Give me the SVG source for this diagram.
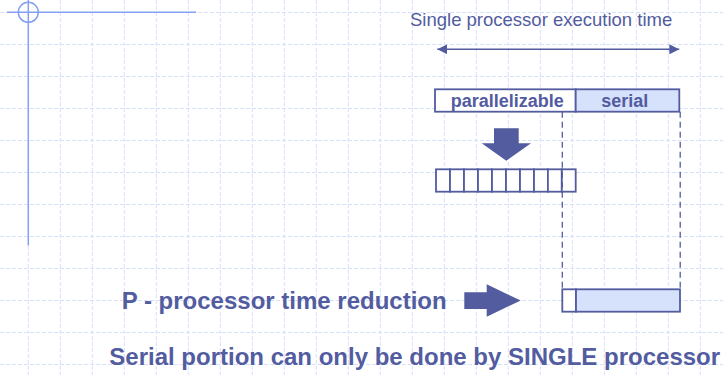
<svg xmlns="http://www.w3.org/2000/svg" width="723" height="375" viewBox="0 0 723 375">
  <defs>
    <style>
      .grid { stroke: #d6e0fc; stroke-width: 1; stroke-dasharray: 4 2; fill: none; }
      .deco { stroke: #84a0f2; stroke-width: 1.5; fill: none; }
      .box { stroke: #525c9f; stroke-width: 1.8; }
      .ink { fill: #525c9f; }
      .dash { stroke: #525c9f; stroke-width: 1.3; stroke-dasharray: 6 4; fill: none; }
      .label { font-family: "Liberation Sans", Arial, sans-serif; fill: #525c9f; }
      .bold { font-weight: bold; }
    </style>
    <marker id="head" viewBox="0 0 10 10" refX="10" refY="5" markerWidth="10" markerHeight="10" markerUnits="userSpaceOnUse" orient="auto-start-reverse">
      <path d="M0,0 L10,5 L0,10 Z" fill="#525c9f"/>
    </marker>
  </defs>

  <rect width="723" height="375" fill="#ffffff"/>

  <!-- background grid -->
  <g id="grid" class="grid">
    <path d="M28.3,0V375 M60.3,0V375 M92.3,0V375 M124.3,0V375 M156.3,0V375 M188.3,0V375 M220.3,0V375 M252.3,0V375 M284.3,0V375 M316.3,0V375 M348.3,0V375 M380.3,0V375 M412.3,0V375 M444.3,0V375 M476.3,0V375 M508.3,0V375 M540.3,0V375 M572.3,0V375 M604.3,0V375 M636.3,0V375 M668.3,0V375 M700.3,0V375"/>
    <path d="M0,12.5H723 M0,44.5H723 M0,76.5H723 M0,108.5H723 M0,140.5H723 M0,172.5H723 M0,204.5H723 M0,236.5H723 M0,268.5H723 M0,300.5H723 M0,332.5H723 M0,364.5H723"/>
  </g>

  <!-- corner ornament -->
  <g id="ornament" class="deco">
    <line x1="7" y1="12.3" x2="196" y2="12.3"/>
    <line x1="28.3" y1="0" x2="28.3" y2="245.5"/>
    <circle cx="28.3" cy="12.3" r="10"/>
  </g>

  <!-- single-processor timeline -->
  <g id="title">
    <text class="label" x="410" y="26" font-size="18.5">Single processor execution time</text>
  </g>

  <g id="timeline-bar">
    <rect class="box" x="435" y="89.3" width="140.7" height="22.4" fill="#ffffff"/>
    <rect class="box" x="575.7" y="89.3" width="103.6" height="22.4" fill="#d6e1fc"/>
    <text class="label bold" x="507.3" y="107.3" font-size="18" text-anchor="middle">parallelizable</text>
    <text class="label bold" x="624.7" y="107.3" font-size="18" text-anchor="middle">serial</text>
  </g>

  <!-- parallel pieces -->
  <g id="parallel-pieces" fill="#ffffff">
    <rect class="box" x="436" y="169.3" width="14" height="22.4"/>
    <rect class="box" x="450" y="169.3" width="14" height="22.4"/>
    <rect class="box" x="464" y="169.3" width="14" height="22.4"/>
    <rect class="box" x="478" y="169.3" width="14" height="22.4"/>
    <rect class="box" x="492" y="169.3" width="14" height="22.4"/>
    <rect class="box" x="506" y="169.3" width="14" height="22.4"/>
    <rect class="box" x="520" y="169.3" width="14" height="22.4"/>
    <rect class="box" x="534" y="169.3" width="13.9" height="22.4"/>
    <rect class="box" x="547.9" y="169.3" width="13.9" height="22.4"/>
    <rect class="box" x="561.8" y="169.3" width="13.9" height="22.4"/>
  </g>

  <!-- P-processor result bar -->
  <g id="reduced-bar">
    <rect class="box" x="562.3" y="289.3" width="13.7" height="22.4" fill="#ffffff"/>
    <rect class="box" x="576" y="289.3" width="104" height="22.4" fill="#d6e1fc"/>
  </g>

  <g id="caption-reduction">
    <text class="label bold" x="121.7" y="309.3" font-size="24">P - processor time reduction</text>
  </g>

  <g id="caption-serial">
    <text class="label bold" x="109.3" y="365" font-size="24">Serial portion can only be done by SINGLE processor</text>
  </g>

  <!-- connectors -->
  <g id="connectors">
    <line x1="437.3" y1="49.3" x2="679.3" y2="49.3" stroke="#525c9f" stroke-width="1.5" marker-start="url(#head)" marker-end="url(#head)"/>
    <line class="dash" x1="562.3" y1="111.7" x2="562.3" y2="289.3"/>
    <line class="dash" x1="680.2" y1="111.7" x2="680.2" y2="289.3"/>
    <path class="ink" d="M494,128.3 H518.7 V143.3 H531 L506.3,160.7 L481.7,143.3 H494 Z"/>
    <path class="ink" d="M464.3,292.3 H486.7 V284.3 L520.7,300.5 L486.7,316.7 V309 H464.3 Z"/>
  </g>
</svg>
